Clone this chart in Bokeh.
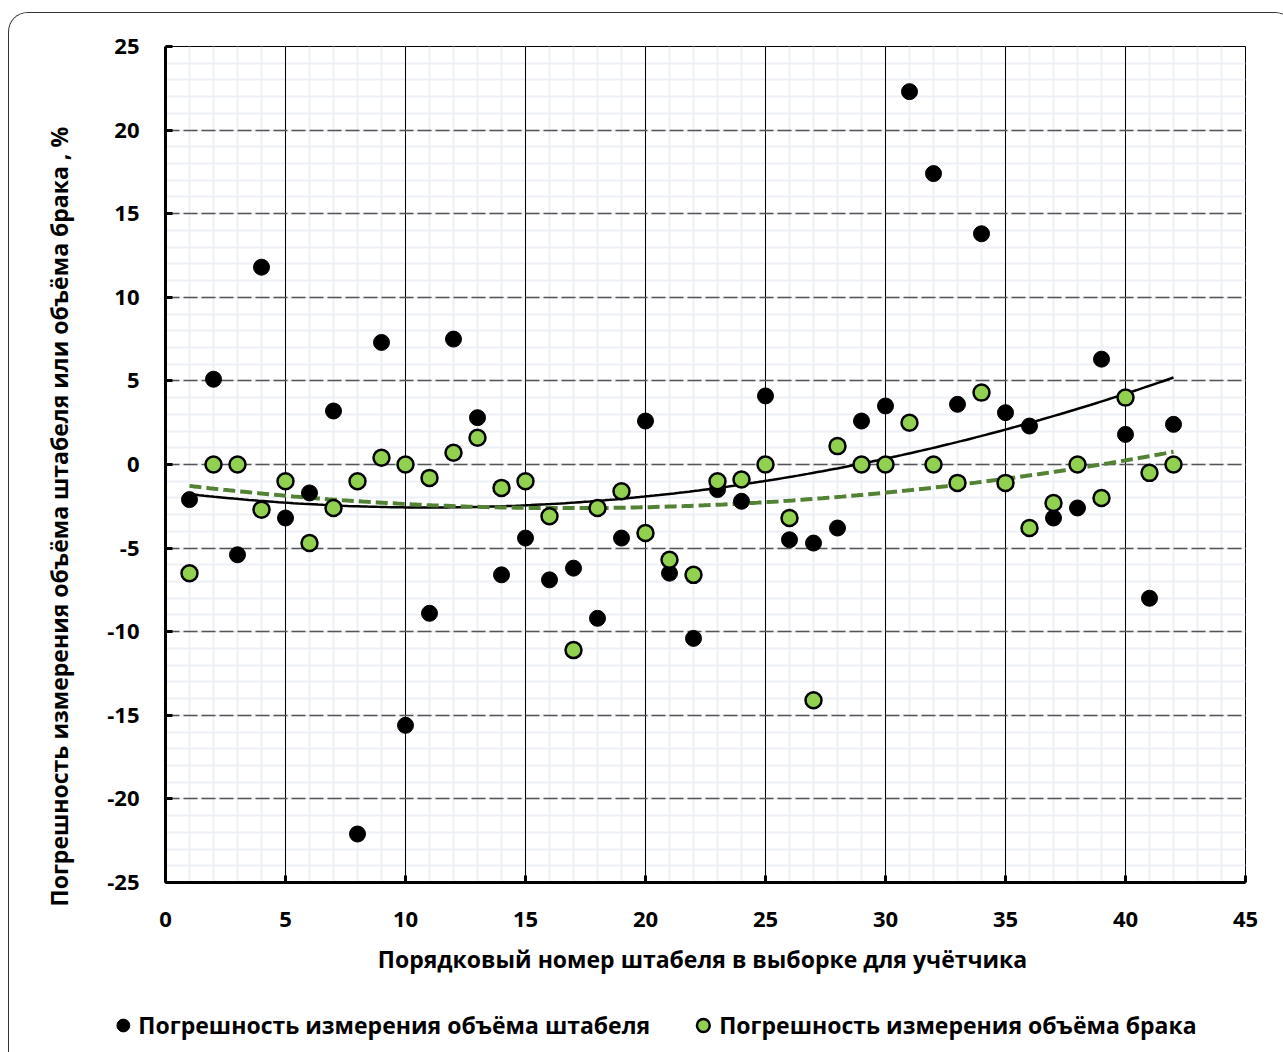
import numpy as np
from bokeh.plotting import figure
from bokeh.models import (SingleIntervalTicker, Legend, LegendItem, Title, Range1d,
                          Grid, CustomJSTickFormatter)
from bokeh.embed import file_html
from bokeh.resources import INLINE

# ---------------- data ----------------
stack_no = list(range(1, 43))
err_stack = [-2.1, 5.1, -5.4, 11.8, -3.2, -1.7, 3.2, -22.1, 7.3, -15.6,
             -8.9, 7.5, 2.8, -6.6, -4.4, -6.9, -6.2, -9.2, -4.4, 2.6,
             -6.5, -10.4, -1.5, -2.2, 4.1, -4.5, -4.7, -3.8, 2.6, 3.5,
             22.3, 17.4, 3.6, 13.8, 3.1, 2.3, -3.2, -2.6, 6.3, 1.8,
             -8.0, 2.4]
err_reject = [-6.5, 0.0, 0.0, -2.7, -1.0, -4.7, -2.6, -1.0, 0.4, 0.0,
              -0.8, 0.7, 1.6, -1.4, -1.0, -3.1, -11.1, -2.6, -1.6, -4.1,
              -5.7, -6.6, -1.0, -0.9, 0.0, -3.2, -14.1, 1.1, 0.0, 0.0,
              2.5, 0.0, -1.1, 4.3, -1.1, -3.8, -2.3, 0.0, -2.0, 4.0,
              -0.5, 0.0]
label_stack = "Погрешность измерения объёма штабеля"
label_reject = "Погрешность измерения объёма брака"
x_title = "Порядковый номер штабеля  в выборке для учётчика"
y_title = "Погрешность измерения объёма штабеля или объёма брака , %"

# polynomial (order 2) trend lines, as in the source spreadsheet
xs = np.array(stack_no, dtype=float)
tx = np.linspace(xs.min(), xs.max(), 200)
trend_stack = np.polyval(np.polyfit(xs, err_stack, 2), tx)
trend_reject = np.polyval(np.polyfit(xs, err_reject, 2), tx)

FONT = "Open Sans"
GREEN = "#92d050"
BORDER = "1px solid #333"

p = figure(frame_width=1080, frame_height=836, output_backend="svg", toolbar_location=None,
           x_range=Range1d(0, 45), y_range=Range1d(-25, 25),
           min_border_left=156, min_border_right=49, min_border_top=33, min_border_bottom=110)
p.styles = {"margin-left": "8px", "margin-top": "12px",
            "border-top": BORDER, "border-left": BORDER, "border-right": BORDER,
            "border-top-left-radius": "20px", "border-top-right-radius": "20px",
            "overflow": "hidden"}
p.background_fill_color = "white"
p.border_fill_color = "white"
p.outline_line_color = "black"
p.outline_line_width = 1

ticker_x = SingleIntervalTicker(interval=5, num_minor_ticks=5)
ticker_y = SingleIntervalTicker(interval=5, num_minor_ticks=5)
p.xaxis[0].ticker = ticker_x
p.yaxis[0].ticker = ticker_y
for ax in (p.xaxis[0], p.yaxis[0]):
    ax.formatter = CustomJSTickFormatter(code="return tick.toFixed(0)")
    ax.axis_line_width = 3
    ax.axis_line_color = "black"
    ax.major_tick_in = 7
    ax.major_tick_out = 0
    ax.major_tick_line_width = 3
    ax.minor_tick_in = 0
    ax.minor_tick_out = 0
    ax.major_label_text_font = FONT
    ax.major_label_text_font_style = "bold"
    ax.major_label_text_font_size = "22px"
    ax.major_label_text_color = "black"

p.xaxis.major_label_standoff = 29
p.yaxis.major_label_standoff = 26
p.xaxis.axis_label = x_title
p.xaxis.axis_label_text_font = FONT
p.xaxis.axis_label_text_font_style = "bold"
p.xaxis.axis_label_text_font_size = "23px"
p.xaxis.axis_label_text_color = "black"
p.xaxis.axis_label_standoff = 13

# minor grid (light) from the default grids, major lines from grids drawn on top
p.xgrid.grid_line_color = None
p.ygrid.grid_line_color = None
for g in (p.xgrid[0], p.ygrid[0]):
    g.minor_grid_line_color = "#edf0f5"
    g.minor_grid_line_width = 2
p.add_layout(Grid(dimension=0, ticker=ticker_x, grid_line_color="black", grid_line_width=1))
p.add_layout(Grid(dimension=1, ticker=ticker_y, grid_line_color="#555555",
                  grid_line_width=1.5, grid_line_dash="14 4"))

# trend lines
p.line(tx, trend_stack, line_color="black", line_width=2.5)
p.line(tx, trend_reject, line_color="#548235", line_width=4, line_dash="12 5")

p.scatter(stack_no, err_stack, size=16, fill_color="black", line_color="black", line_width=1)
p.scatter(stack_no, err_reject, size=16, fill_color=GREEN, line_color="black", line_width=2.5)

# y-axis title
p.add_layout(Title(text=y_title, align="left", offset=-24, standoff=60,
                   text_font=FONT, text_font_style="bold", text_font_size="23px",
                   text_color="black"), "left")

# ---- legend strip (separate root below the chart, centred on the whole width) ----
lg = figure(width=1285, height=66, output_backend="svg", toolbar_location=None,
            x_range=Range1d(0, 45), y_range=Range1d(100, 101),
            min_border_left=0, min_border_right=0, min_border_top=0, min_border_bottom=0)
lg.styles = {"margin-left": "8px", "border-left": BORDER, "border-right": BORDER}
lg.axis.visible = False
lg.grid.visible = False
lg.outline_line_color = None
lg.background_fill_color = "white"
lg.border_fill_color = "white"
# same series, outside this strip's visible range: only their legend keys show
k1 = lg.scatter(stack_no, err_stack, size=16, fill_color="black", line_color="black",
                line_width=1)
k2 = lg.scatter(stack_no, err_reject, size=16, fill_color=GREEN, line_color="black",
                line_width=2.5)
legend = Legend(items=[LegendItem(label=label_stack, renderers=[k1]),
                       LegendItem(label=label_reject, renderers=[k2])],
                orientation="horizontal", location="center",
                glyph_width=32, glyph_height=32, label_standoff=0, spacing=37,
                padding=0, margin=0, border_line_alpha=0, background_fill_alpha=0,
                label_text_font=FONT, label_text_font_style="bold",
                label_text_font_size="23px", label_text_color="black")
lg.add_layout(legend)

open("out.html", "w").write(file_html([p, lg], INLINE))
